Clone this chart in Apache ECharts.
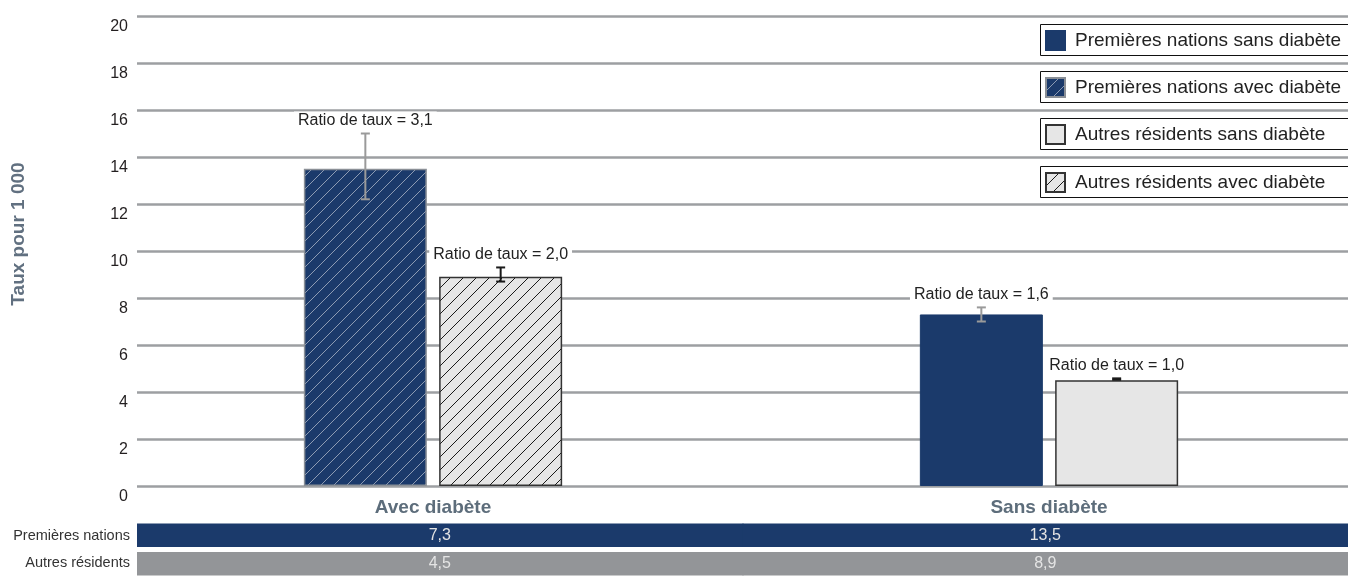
<!DOCTYPE html>
<html>
<head>
<meta charset="utf-8">
<script src="https://cdn.jsdelivr.net/npm/echarts@6/dist/echarts.min.js"></script>
<style>
html,body{margin:0;padding:0;background:#fff;}
#chart{width:1348px;height:576px;}
</style>
</head>
<body>
<div id="chart"></div>
<script>
// ---------- DATA ----------
const categories = ['Avec diabète', 'Sans diabète'];
const legendNames = [
  'Premières nations sans diabète',
  'Premières nations avec diabète',
  'Autres résidents sans diabète',
  'Autres résidents avec diabète'
];
const fnRates = [13.5, 7.3];
const otherRates = [8.9, 4.5];
const fnCI = [[12.2, 15.0], [7.0, 7.6]];
const otherCI = [[8.7, 9.3], [4.52, 4.58]];
const fnRatioLabels = ['Ratio de taux = 3,1', 'Ratio de taux = 1,6'];
const otherRatioLabels = ['Ratio de taux = 2,0', 'Ratio de taux = 1,0'];
const yAxisTitle = 'Taux pour 1 000';
const tableRows = ['Premières nations', 'Autres résidents'];
const tableFN = ['7,3', '13,5'];
const tableOther = ['4,5', '8,9'];
const yMin = 0, yMax = 20, yInterval = 2;

// ---------- STYLE ----------
const FONT = "'Liberation Sans', Arial, sans-serif";
const NAVY = '#1b3a6b';
const LIGHT = '#e6e6e6';
const ROW_COLORS = [NAVY, '#939598'];
const BAR_W = 123;
const BAR_GAP = '10%';
const SLOT = (BAR_W + BAR_W * 0.1) / 2;

function hatch(bg, line) {
  const s = 13;
  const c = document.createElement('canvas');
  c.width = s; c.height = s;
  const ctx = c.getContext('2d');
  ctx.fillStyle = bg; ctx.fillRect(0, 0, s, s);
  ctx.strokeStyle = line; ctx.lineWidth = 1;
  ctx.beginPath();
  ctx.moveTo(-1, s + 1); ctx.lineTo(s + 1, -1);
  ctx.moveTo(-2, 2); ctx.lineTo(2, -2);
  ctx.moveTo(s - 2, s + 2); ctx.lineTo(s + 2, s - 2);
  ctx.stroke();
  return { image: c, repeat: 'repeat' };
}
const fnHatch = hatch(NAVY, '#8d9bb3');
const otherHatch = hatch(LIGHT, '#1a1a1a');

function pick(arr, idx) { return arr.map((v, i) => (i === idx ? v : null)); }

function errSeries(ci, labels, sign, color) {
  return {
    type: 'custom',
    xAxisIndex: 1, yAxisIndex: 1,
    z: 10,
    data: ci.map((d, i) => [i, d[0], d[1], labels[i]]),
    encode: { x: 0, y: [1, 2] },
    renderItem: function (params, api) {
      const lo = api.coord([api.value(0), api.value(1)]);
      const hi = api.coord([api.value(0), api.value(2)]);
      const x = lo[0] + sign * SLOT;
      const cap = 4.5;
      return {
        type: 'group',
        children: [
          { type: 'line', shape: { x1: x, y1: lo[1], x2: x, y2: hi[1] }, style: { stroke: color, lineWidth: 2 } },
          { type: 'line', shape: { x1: x - cap, y1: lo[1], x2: x + cap, y2: lo[1] }, style: { stroke: color, lineWidth: 2 } },
          { type: 'line', shape: { x1: x - cap, y1: hi[1], x2: x + cap, y2: hi[1] }, style: { stroke: color, lineWidth: 2 } },
          { type: 'text', x: x, y: hi[1] - 4,
            style: { text: api.value(3), fill: '#222', font: '16px ' + FONT,
                     align: 'center', verticalAlign: 'bottom',
                     backgroundColor: '#fff', padding: [1, 4, 1, 4] } }
        ]
      };
    }
  };
}

const legendTops = [24, 71, 118, 166];
const legendBoxes = legendTops.map(t => ({
  type: 'rect', z: 3,
  shape: { x: 1040.5, y: t + 0.5, width: 330, height: 31 },
  style: { fill: '#fff', stroke: '#111', lineWidth: 1 }
}));
const legends = legendNames.map((n, i) => ({
  data: [n], left: 1043, top: legendTops[i] + 5,
  itemWidth: 19, itemHeight: 19, itemGap: 0, padding: [1, 0, 0, 2],
  icon: 'rect', selectedMode: false,
  textStyle: { fontFamily: FONT, fontSize: 19, color: '#222', padding: [0, 0, 0, 5] }
}));

const option = {
  backgroundColor: '#fff',
  animation: false,
  textStyle: { fontFamily: FONT },
  graphic: legendBoxes.concat([{
    type: 'text', x: 19, y: 234, rotation: Math.PI / 2, z: 3,
    style: { text: yAxisTitle, font: 'bold 19px ' + FONT, fill: '#617080', align: 'center', verticalAlign: 'middle' }
  }]),
  legend: legends,
  grid: [
    { left: 137, right: 0, top: 16, height: 470, outerBoundsMode: 'none' },
    { left: 125, right: -9, top: 16, height: 470, outerBoundsMode: 'none' },
    { left: 137, right: 0, top: 523, height: 53, outerBoundsMode: 'none' }
  ],
  xAxis: [
    { gridIndex: 0, type: 'value', show: false },
    { gridIndex: 1, type: 'category', data: categories,
      axisLine: { show: false }, axisTick: { show: false },
      axisLabel: { fontFamily: FONT, fontSize: 19, fontWeight: 'bold', color: '#5d6d7b', margin: 12 } },
    { gridIndex: 2, type: 'category', data: categories, show: false }
  ],
  yAxis: [
    { gridIndex: 0, type: 'value', min: yMin, max: yMax, interval: yInterval,
      axisLine: { show: false }, axisTick: { show: false },
      axisLabel: { fontFamily: FONT, fontSize: 16, color: '#231f20', margin: 9, verticalAlign: 'top', padding: [3, 0, 0, 0] },
      splitLine: { lineStyle: { color: '#9d9fa2', width: 2.5 } } },
    { gridIndex: 1, type: 'value', min: yMin, max: yMax, interval: yInterval, show: false, splitLine: { show: false } },
    { gridIndex: 2, type: 'category', data: tableRows, inverse: true,
      axisLine: { show: false }, axisTick: { show: false },
      axisLabel: { fontFamily: FONT, fontSize: 14.5, color: '#333', margin: 7 } }
  ],
  series: [
    { name: legendNames[0], type: 'bar', stack: 'fn', xAxisIndex: 1, yAxisIndex: 1,
      data: pick(fnRates, 1), barWidth: BAR_W, barGap: BAR_GAP,
      itemStyle: { color: NAVY, borderColor: NAVY, borderWidth: 1 } },
    { name: legendNames[1], type: 'bar', stack: 'fn', xAxisIndex: 1, yAxisIndex: 1,
      data: pick(fnRates, 0), barWidth: BAR_W, barGap: BAR_GAP,
      itemStyle: { color: fnHatch, borderColor: '#8a8f96', borderWidth: 1.5 } },
    { name: legendNames[2], type: 'bar', stack: 'other', xAxisIndex: 1, yAxisIndex: 1,
      data: pick(otherRates, 1), barWidth: BAR_W, barGap: BAR_GAP,
      itemStyle: { color: LIGHT, borderColor: '#333', borderWidth: 1.5 } },
    { name: legendNames[3], type: 'bar', stack: 'other', xAxisIndex: 1, yAxisIndex: 1,
      data: pick(otherRates, 0), barWidth: BAR_W, barGap: BAR_GAP,
      itemStyle: { color: otherHatch, borderColor: '#333', borderWidth: 1.5 } },
    errSeries(fnCI, fnRatioLabels, -1, '#9a9a9a'),
    errSeries(otherCI, otherRatioLabels, 1, '#1a1a1a'),
    {
      type: 'custom', xAxisIndex: 2, yAxisIndex: 2,
      data: tableFN.map((t, i) => [i, 0, t]).concat(tableOther.map((t, i) => [i, 1, t])),
      encode: { x: 0, y: 1 },
      renderItem: function (params, api) {
        const p = api.coord([api.value(0), api.value(1)]);
        const sz = api.size([1, 1]);
        const row = api.value(1);
        const h = sz[1] - 3;
        return {
          type: 'group',
          children: [
            { type: 'rect', shape: { x: p[0] - sz[0] / 2, y: p[1] - h / 2 - (row ? -1 : 1), width: sz[0] + 1, height: h },
              style: { fill: ROW_COLORS[row] } },
            { type: 'text', x: p[0], y: p[1] - (row ? -1 : 1),
              style: { text: api.value(2), fill: '#e4e4e4', font: '16px ' + FONT, align: 'center', verticalAlign: 'middle' } }
          ]
        };
      }
    }
  ]
};

const chart = echarts.init(document.getElementById('chart'), null, { renderer: 'canvas' });
chart.setOption(option);
</script>
</body>
</html>
